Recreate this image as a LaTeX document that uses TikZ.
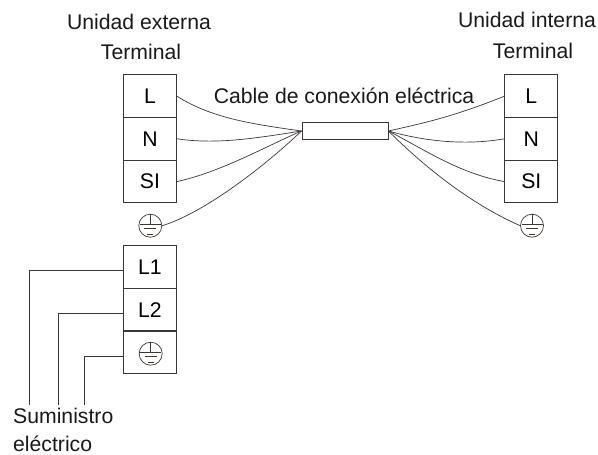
\documentclass[tikz,border=0pt]{standalone}
\usepackage{fontspec}
\setmainfont{Liberation Sans}
\usepackage{xcolor}
\usetikzlibrary{calc}
\definecolor{wirecol}{HTML}{3A3634}
\tikzset{
  cell/.style={draw=wirecol, line width=0.9pt, minimum width=53pt, minimum height=42.6pt, inner sep=0pt, font=\fontsize{21.2}{23}\selectfont},
  caption/.style={inner sep=0pt, text=black!90, font=\fontsize{21.2}{23}\selectfont},
  earth/.style={draw=wirecol, line width=0.7pt, circle, minimum size=23pt, inner sep=0pt},
  wire/.style={draw=wirecol, line width=0.7pt}
}
\begin{document}
\begin{tikzpicture}[x=1pt, y=-1pt]
  \useasboundingbox (0,0) rectangle (598,455);
  % captions
  \node[caption] (capExt) at (139,22) {Unidad externa};
  \node[caption] (capExtT) at (141,52) {Terminal};
  \node[caption] (capInt) at (527,20) {Unidad interna};
  \node[caption] (capIntT) at (533,51) {Terminal};
  \node[caption] (capCable) at (344,96) {Cable de conexión eléctrica};
  \node[caption, anchor=west] (capSup) at (13,416) {Suministro};
  \node[caption, anchor=west] (capSupB) at (13,443.5) {eléctrico};
  % terminal blocks
  \node[cell] (extL) at (150,96.2) {L};
  \node[cell] (extN) at (150,138.8) {N};
  \node[cell] (extS) at (150,181.6) {SI};
  \node[cell] (intL) at (531.3,96.2) {L};
  \node[cell] (intN) at (531.3,138.8) {N};
  \node[cell] (intS) at (531.3,181.6) {SI};
  \node[cell] (supA) at (150,267) {L1};
  \node[cell] (supB) at (150,309.6) {L2};
  \node[cell] (supC) at (150,352.4) {};
  \node[draw=wirecol, line width=0.9pt, minimum width=86pt, minimum height=16.6pt, inner sep=0pt] (cable) at (345,131) {};
  % earth marks
  \node[earth] (gndA) at (150.3,225.7) {};
  \node[earth] (gndB) at (532,225.7) {};
  \node[earth] (gndC) at (150.7,353.7) {};
  \foreach \g in {gndA,gndB,gndC} {
    \draw[wire] (\g.north) -- ++(0,9.8);
    \draw[wire] ($(\g.center)+(-10.5,-1.7)$) -- ++(21,0);
    \draw[wire] ($(\g.center)+(-6,2.7)$) -- ++(12,0);
    \draw[wire] ($(\g.center)+(-3,8.3)$) -- ++(6,0);
  }
  % cable wires
  \draw[wire] (extL.east) .. controls +(35,22) and +(-50,-7) .. (cable.west);
  \draw[wire] (extN.east) .. controls +(40,6) and +(-45,7) .. (cable.west);
  \draw[wire] (extS.east) .. controls +(45,-10) and +(-35,15) .. (cable.west);
  \draw[wire] (gndA.east) .. controls +(40,-12) and +(-40,38) .. (cable.west);
  \draw[wire] (intL.west) .. controls +(-50,20) and +(40,-9) .. (cable.east);
  \draw[wire] (intN.west) .. controls +(-40,7) and +(35,10) .. (cable.east);
  \draw[wire] (intS.west) .. controls +(-45,-8) and +(35,18) .. (cable.east);
  \draw[wire] (gndB.west) .. controls +(-50,-22) and +(35,35) .. (cable.east);
  % supply wires
  \coordinate (endA) at (29,405);
  \coordinate (endB) at (58.7,405);
  \coordinate (endC) at (84,405);
  \foreach \c/\e in {supA/endA,supB/endB,supC/endC} {
    \draw[wire] ([yshift=-3.5pt]\c.west) -| (\e);
  }
\end{tikzpicture}
\end{document}
